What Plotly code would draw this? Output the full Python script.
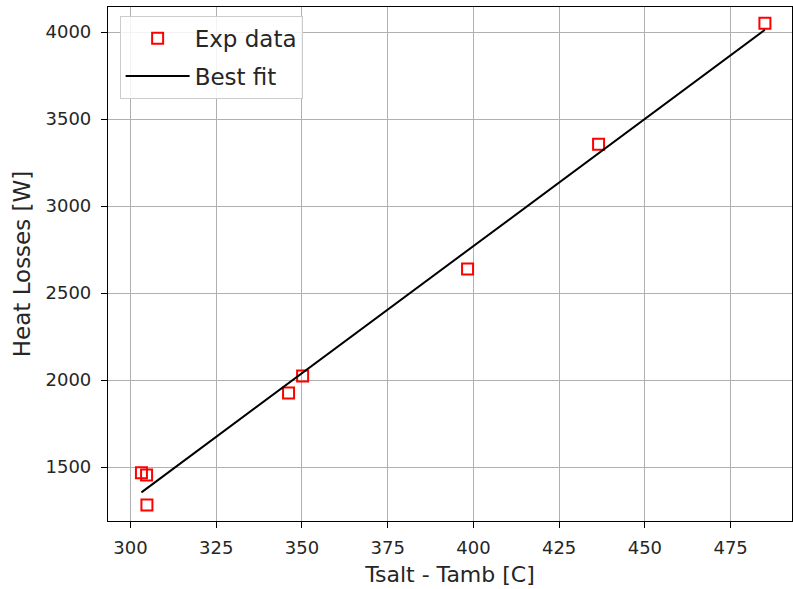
import numpy as np
import plotly.graph_objects as go

# Measured temperature difference (salt minus ambient) and heat losses
delta_t = [303.2, 304.7, 304.8, 346.1, 350.2, 398.3, 436.5, 485.0]
heat_loss = [1468, 1454, 1282, 1925, 2023, 2638, 3355, 4050]

x_ticks = [300, 325, 350, 375, 400, 425, 450, 475]
y_ticks = [1500, 2000, 2500, 3000, 3500, 4000]

# Linear least-squares fit through the measurements
slope, intercept = np.polyfit(delta_t, heat_loss, 1)
fit_x = np.array([min(delta_t), max(delta_t)])
fit_y = slope * fit_x + intercept

fig = go.Figure()
fig.add_trace(go.Scatter(
    x=delta_t, y=heat_loss, mode="markers", name="Exp data", legendgroup="exp",
    marker=dict(symbol="square-open", size=11, color="red",
                line=dict(color="red", width=2)),
))
fig.add_trace(go.Scatter(
    x=fit_x, y=fit_y, mode="lines", name="Best fit", legendgroup="fit",
    line=dict(color="black", width=2),
))

axis_common = dict(
    showgrid=True, gridcolor="#b0b0b0", gridwidth=1,
    showline=True, linecolor="black", linewidth=1.2, mirror=True,
    ticks="outside", ticklen=6, tickcolor="black", tickwidth=1.2,
    tickfont=dict(family="DejaVu Sans", size=18, color="#262626"),
    zeroline=False, automargin=False,
)

fig.update_layout(
    width=793, height=589,
    margin=dict(l=108, r=1, t=7, b=68),
    paper_bgcolor="white", plot_bgcolor="white",
    font=dict(family="DejaVu Sans", color="#262626"),
    xaxis=dict(range=[293.45, 492.9], tickvals=x_ticks, ticklabelstandoff=4,
               title=dict(text="Tsalt - Tamb [C]", font=dict(size=22), standoff=9),
               **axis_common),
    yaxis=dict(range=[1190, 4144], tickvals=y_ticks, ticklabelstandoff=6,
               title=dict(text="Heat Losses [W]", font=dict(size=23), standoff=8),
               **axis_common),
    legend=dict(x=0.017, y=0.983, xanchor="left", yanchor="top",
                bgcolor="rgba(255,255,255,0.85)", bordercolor="#cccccc",
                borderwidth=1, font=dict(size=23, color="#262626"),
                itemwidth=64, tracegroupgap=5),
    showlegend=True,
)

fig.write_html("out.html")
